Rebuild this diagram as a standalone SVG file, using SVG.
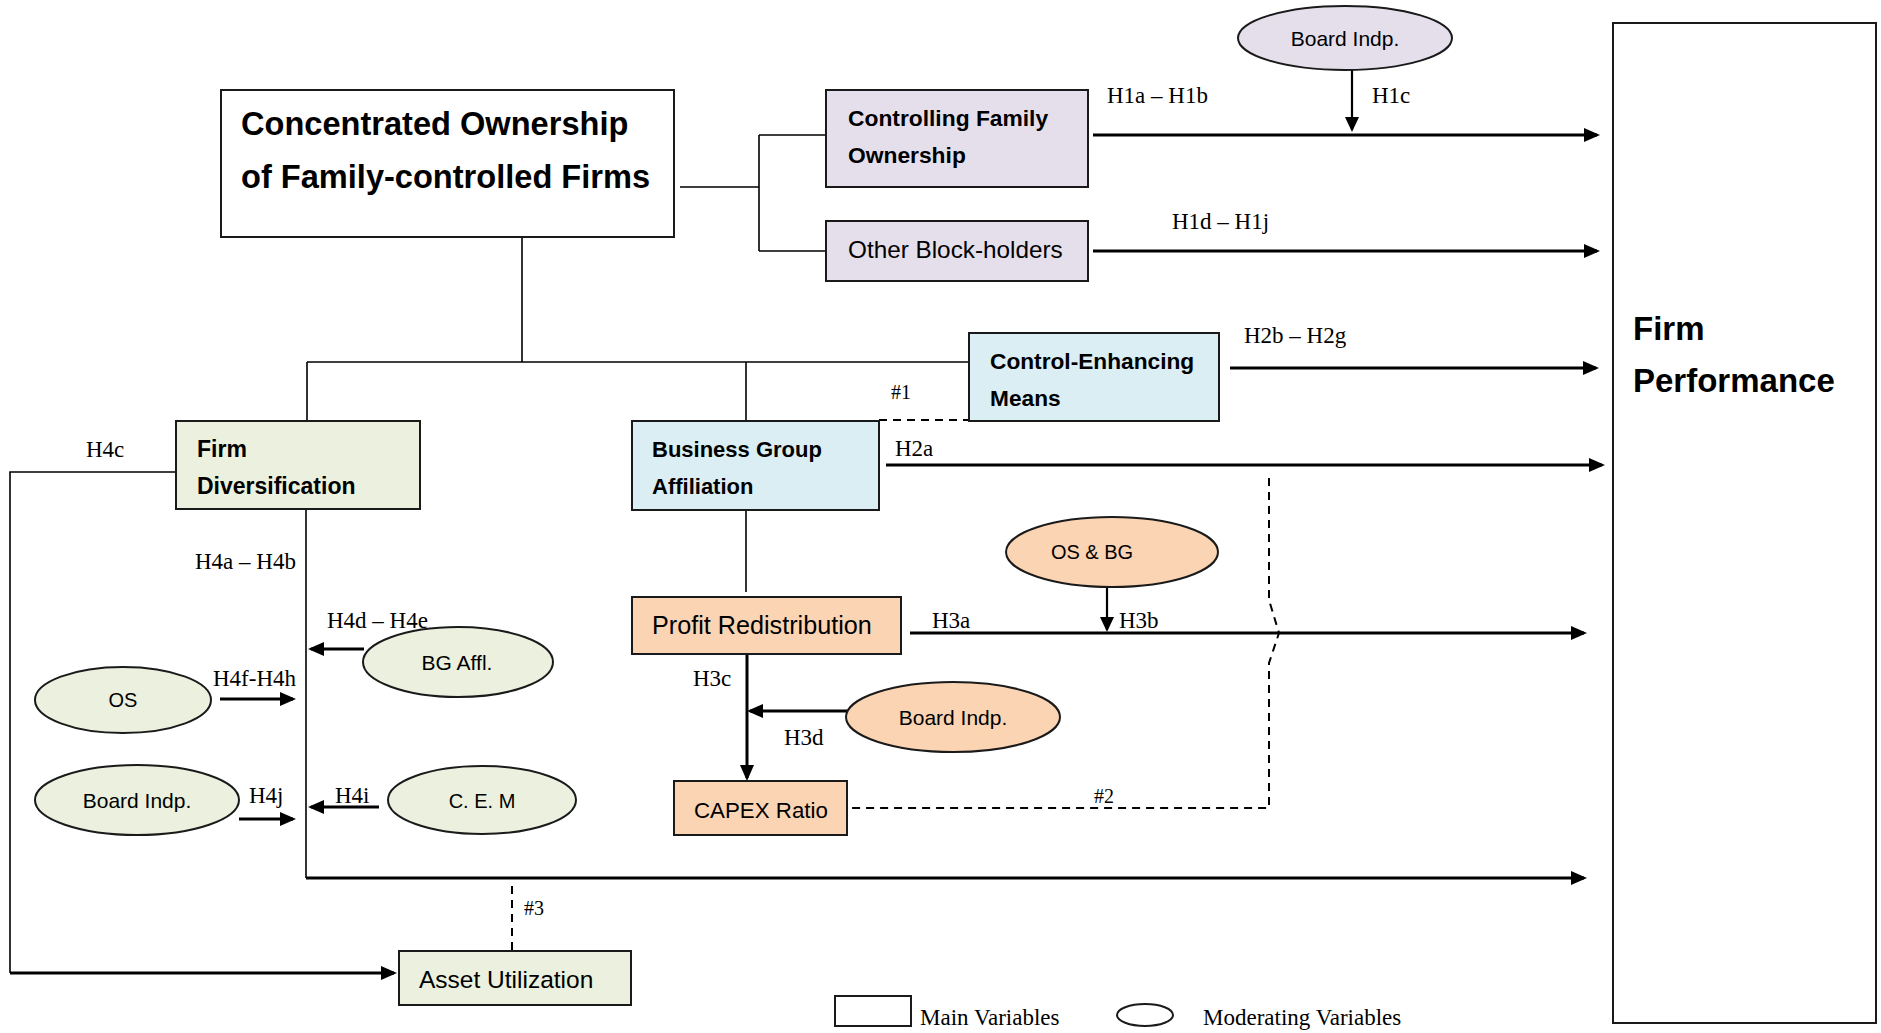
<svg xmlns="http://www.w3.org/2000/svg" width="1881" height="1033" viewBox="0 0 1881 1033">
  <style>
    .box { stroke: #1a1a1a; stroke-width: 2; }
    .white { fill: #ffffff; }
    .purple { fill: #E5DFEC; }
    .blue { fill: #DAEEF3; }
    .green { fill: #EBF1DE; }
    .peach { fill: #FBD4B4; }
    .sans { font-family: "Liberation Sans", Arial, sans-serif; fill: #000; }
    .bold { font-weight: bold; }
    .hyp { font-family: "Liberation Serif", "Times New Roman", serif; font-size: 23px; fill: #000; }
    .thin { stroke: #000; stroke-width: 1.6; fill: none; }
    .thick { stroke: #000; stroke-width: 3; fill: none; }
    .mid { stroke: #000; stroke-width: 2.2; fill: none; }
    .dash { stroke: #000; stroke-width: 2; fill: none; stroke-dasharray: 8 6; }
  </style>
  <defs>
    <marker id="ah" markerUnits="userSpaceOnUse" markerWidth="16" markerHeight="14" viewBox="0 0 16 14" refX="13" refY="7" orient="auto">
      <path d="M0,0 L16,7 L0,14 z" fill="#000"/>
    </marker>
    <marker id="ahs" markerUnits="userSpaceOnUse" markerWidth="15" markerHeight="14" viewBox="0 0 15 14" refX="13" refY="7" orient="auto">
      <path d="M0,0 L15,7 L0,14 z" fill="#000"/>
    </marker>
  </defs>

  <rect width="1881" height="1033" fill="#ffffff"/>

  <!-- connectors -->
  <g id="connectors">
    <!-- ownership bracket -->
    <path class="thin" d="M680,187 H759 M759,135 V251 M759,135 H826 M759,251 H826"/>
    <!-- ownership down to the three channels -->
    <path class="thin" d="M522,237 V362 M307,362 H969 M307,362 V421 M746,362 V421"/>
    <path class="thin" d="M746,510 V592"/>
    <!-- firm diversification trunk -->
    <path class="thin" d="M306,509 V878"/>
    <path class="thin" d="M176,472 H10 V973"/>
    <line class="thick" x1="10" y1="973" x2="394" y2="973" marker-end="url(#ah)"/>

    <!-- main effects on firm performance -->
    <line class="thick" x1="1093" y1="135" x2="1597" y2="135" marker-end="url(#ah)"/>
    <line class="thick" x1="1093" y1="251" x2="1597" y2="251" marker-end="url(#ah)"/>
    <line class="thick" x1="1230" y1="368" x2="1596" y2="368" marker-end="url(#ah)"/>
    <line class="thick" x1="886" y1="465" x2="1602" y2="465" marker-end="url(#ah)"/>
    <line class="thick" x1="910" y1="633" x2="1584" y2="633" marker-end="url(#ah)"/>
    <line class="thick" x1="306" y1="878" x2="1584" y2="878" marker-end="url(#ah)"/>

    <!-- moderating effects -->
    <line class="mid" x1="1352" y1="70" x2="1352" y2="130" marker-end="url(#ahs)"/>
    <line class="mid" x1="1107" y1="587" x2="1107" y2="630" marker-end="url(#ahs)"/>
    <line class="thick" x1="747" y1="654" x2="747" y2="778" marker-end="url(#ah)"/>
    <line class="thick" x1="847" y1="711" x2="750" y2="711" marker-end="url(#ah)"/>
    <line class="thick" x1="364" y1="649" x2="311" y2="649" marker-end="url(#ah)"/>
    <line class="thick" x1="220" y1="699" x2="293" y2="699" marker-end="url(#ah)"/>
    <line class="thick" x1="239" y1="819" x2="293" y2="819" marker-end="url(#ah)"/>
    <line class="thick" x1="379" y1="807" x2="311" y2="807" marker-end="url(#ah)"/>

    <!-- dashed links -->
    <line class="dash" x1="879" y1="420" x2="969" y2="420"/>
    <path class="dash" d="M1269,478 V600 L1279,633 L1269,663 V808 H847"/>
    <line class="dash" x1="512" y1="886" x2="512" y2="950"/>

    <!-- hypothesis labels -->
    <text class="hyp" x="1107" y="103">H1a – H1b</text>
    <text class="hyp" x="1372" y="103">H1c</text>
    <text class="hyp" x="1172" y="229">H1d – H1j</text>
    <text class="hyp" x="1244" y="343">H2b – H2g</text>
    <text class="hyp" x="891" y="399" style="font-size:20px">#1</text>
    <text class="hyp" x="895" y="456">H2a</text>
    <text class="hyp" x="932" y="628">H3a</text>
    <text class="hyp" x="1119" y="628">H3b</text>
    <text class="hyp" x="693" y="686">H3c</text>
    <text class="hyp" x="784" y="745">H3d</text>
    <text class="hyp" x="1094" y="803" style="font-size:20px">#2</text>
    <text class="hyp" x="524" y="915" style="font-size:20px">#3</text>
    <text class="hyp" x="86" y="457">H4c</text>
    <text class="hyp" x="195" y="569">H4a – H4b</text>
    <text class="hyp" x="327" y="628">H4d – H4e</text>
    <text class="hyp" x="213" y="686">H4f-H4h</text>
    <text class="hyp" x="249" y="803">H4j</text>
    <text class="hyp" x="335" y="803">H4i</text>
  </g>

  <!-- main variables -->
  <g id="concentrated-ownership">
    <rect class="box white" x="221" y="90" width="453" height="147"/>
    <text class="sans bold" x="241" y="135" font-size="32.6">Concentrated Ownership</text>
    <text class="sans bold" x="241" y="188" font-size="32.6">of Family-controlled Firms</text>
  </g>
  <g id="controlling-family">
    <rect class="box purple" x="826" y="90" width="262" height="97"/>
    <text class="sans bold" x="848" y="126" font-size="22.8">Controlling Family</text>
    <text class="sans bold" x="848" y="163" font-size="22.8">Ownership</text>
  </g>
  <g id="block-holders">
    <rect class="box purple" x="826" y="221" width="262" height="60"/>
    <text class="sans" x="848" y="258" font-size="24.3">Other Block-holders</text>
  </g>
  <g id="firm-performance">
    <rect class="box white" x="1613" y="23" width="263" height="1000"/>
    <text class="sans bold" x="1633" y="340" font-size="33">Firm</text>
    <text class="sans bold" x="1633" y="392" font-size="33">Performance</text>
  </g>
  <g id="control-enhancing">
    <rect class="box blue" x="969" y="333" width="250" height="88"/>
    <text class="sans bold" x="990" y="369" font-size="22.7">Control-Enhancing</text>
    <text class="sans bold" x="990" y="406" font-size="22.7">Means</text>
  </g>
  <g id="business-group">
    <rect class="box blue" x="632" y="421" width="247" height="89"/>
    <text class="sans bold" x="652" y="457" font-size="22">Business Group</text>
    <text class="sans bold" x="652" y="494" font-size="22">Affiliation</text>
  </g>
  <g id="firm-diversification">
    <rect class="box green" x="176" y="421" width="244" height="88"/>
    <text class="sans bold" x="197" y="457" font-size="23">Firm</text>
    <text class="sans bold" x="197" y="494" font-size="23">Diversification</text>
  </g>
  <g id="profit-redistribution">
    <rect class="box peach" x="632" y="597" width="269" height="57"/>
    <text class="sans" x="652" y="634" font-size="25.2">Profit Redistribution</text>
  </g>
  <g id="capex-ratio">
    <rect class="box peach" x="674" y="781" width="173" height="54"/>
    <text class="sans" x="694" y="818" font-size="22.3">CAPEX Ratio</text>
  </g>
  <g id="asset-utilization">
    <rect class="box green" x="399" y="951" width="232" height="54"/>
    <text class="sans" x="419" y="988" font-size="24.5">Asset Utilization</text>
  </g>

  <!-- moderating variables -->
  <g id="board-indp-top">
    <ellipse class="box purple" cx="1345" cy="38" rx="107" ry="32"/>
    <text class="sans" x="1345" y="46" font-size="21" text-anchor="middle">Board Indp.</text>
  </g>
  <g id="os-bg">
    <ellipse class="box peach" cx="1112" cy="552" rx="106" ry="35"/>
    <text class="sans" x="1092" y="559" font-size="20" text-anchor="middle">OS &amp; BG</text>
  </g>
  <g id="board-indp-peach">
    <ellipse class="box peach" cx="953" cy="717" rx="107" ry="35"/>
    <text class="sans" x="953" y="725" font-size="21" text-anchor="middle">Board Indp.</text>
  </g>
  <g id="bg-affl">
    <ellipse class="box green" cx="458" cy="662" rx="95" ry="35"/>
    <text class="sans" x="457" y="670" font-size="21" text-anchor="middle">BG Affl.</text>
  </g>
  <g id="os">
    <ellipse class="box green" cx="123" cy="700" rx="88" ry="33"/>
    <text class="sans" x="123" y="707" font-size="20" text-anchor="middle">OS</text>
  </g>
  <g id="board-indp-green">
    <ellipse class="box green" cx="137" cy="800" rx="102" ry="35"/>
    <text class="sans" x="137" y="808" font-size="21" text-anchor="middle">Board Indp.</text>
  </g>
  <g id="cem">
    <ellipse class="box green" cx="482" cy="800" rx="94" ry="34"/>
    <text class="sans" x="482" y="808" font-size="20" text-anchor="middle">C. E. M</text>
  </g>

  <!-- legend -->
  <g id="legend">
    <rect class="box white" x="835" y="996" width="76" height="30"/>
    <text class="hyp" x="920" y="1025">Main Variables</text>
    <ellipse class="box white" cx="1145" cy="1015" rx="28" ry="11"/>
    <text class="hyp" x="1203" y="1025">Moderating Variables</text>
  </g>
</svg>
